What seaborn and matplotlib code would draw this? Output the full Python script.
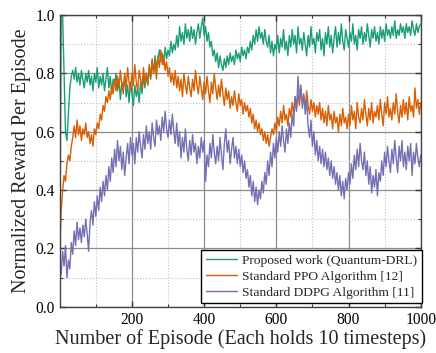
import numpy as np
import pandas as pd
import matplotlib
matplotlib.use("Agg")
import matplotlib.pyplot as plt
import seaborn as sns
from matplotlib.ticker import MultipleLocator, FixedLocator

episodes = np.arange(0, 1001, 4)

quantum_drl = [
    0.12, 1.00, 1.00, 0.80, 0.60, 0.57, 0.66, 0.75, 0.79, 0.81,
    0.78, 0.82, 0.77, 0.80, 0.76, 0.81, 0.78, 0.75, 0.80, 0.77,
    0.81, 0.76, 0.79, 0.74, 0.80, 0.77, 0.82, 0.75, 0.79, 0.76,
    0.80, 0.74, 0.78, 0.82, 0.75, 0.79, 0.73, 0.78, 0.76, 0.80,
    0.74, 0.78, 0.71, 0.77, 0.75, 0.79, 0.72, 0.76, 0.70, 0.77,
    0.73, 0.69, 0.76, 0.72, 0.75, 0.70, 0.77, 0.73, 0.79, 0.75,
    0.80, 0.76, 0.82, 0.78, 0.84, 0.80, 0.86, 0.82, 0.85, 0.88,
    0.84, 0.87, 0.83, 0.89, 0.85, 0.88, 0.86, 0.91, 0.87, 0.90,
    0.88, 0.93, 0.89, 0.96, 0.91, 0.94, 0.90, 0.97, 0.92, 0.95,
    0.91, 0.96, 0.92, 0.95, 0.90, 0.94, 0.97, 0.92, 0.96, 0.99,
    0.93, 0.96, 0.91, 0.94, 0.89, 0.91, 0.86, 0.88, 0.84, 0.87,
    0.82, 0.86, 0.83, 0.81, 0.85, 0.82, 0.86, 0.83, 0.87, 0.84,
    0.86, 0.83, 0.88, 0.85, 0.87, 0.84, 0.89, 0.86, 0.88, 0.85,
    0.89, 0.87, 0.91, 0.88, 0.93, 0.90, 0.95, 0.91, 0.96, 0.92,
    0.94, 0.90, 0.95, 0.91, 0.89, 0.93, 0.87, 0.91, 0.86, 0.90,
    0.88, 0.93, 0.87, 0.92, 0.89, 0.95, 0.88, 0.91, 0.86, 0.93,
    0.89, 0.95, 0.90, 0.93, 0.87, 0.96, 0.90, 0.92, 0.88, 0.94,
    0.90, 0.86, 0.93, 0.89, 0.96, 0.90, 0.92, 0.87, 0.94, 0.91,
    0.95, 0.88, 0.92, 0.86, 0.94, 0.90, 0.96, 0.89, 0.93, 0.87,
    0.92, 0.96, 0.89, 0.94, 0.90, 0.97, 0.91, 0.88, 0.95, 0.92,
    0.89, 0.94, 0.91, 0.97, 0.90, 0.93, 0.88, 0.95, 0.92, 0.96,
    0.90, 0.94, 0.91, 0.97, 0.93, 0.89, 0.95, 0.92, 0.96, 0.91,
    0.94, 0.90, 0.96, 0.92, 0.95, 0.91, 0.97, 0.93, 0.95, 0.92,
    0.96, 0.93, 0.98, 0.92, 0.95, 0.93, 0.97, 0.94, 0.96, 0.92,
    0.97, 0.94, 0.96, 0.93, 0.98, 0.95, 0.93, 0.97, 0.94, 0.96,
    0.97,
]

ppo = [
    0.18, 0.33, 0.40, 0.45, 0.43, 0.49, 0.52, 0.50, 0.55, 0.58,
    0.62, 0.58, 0.64, 0.59, 0.62, 0.57, 0.61, 0.59, 0.63, 0.58,
    0.60, 0.56, 0.59, 0.55, 0.61, 0.59, 0.63, 0.61, 0.66, 0.64,
    0.69, 0.67, 0.72, 0.70, 0.74, 0.71, 0.76, 0.73, 0.78, 0.74,
    0.79, 0.75, 0.81, 0.76, 0.73, 0.80, 0.75, 0.82, 0.77, 0.74,
    0.80, 0.76, 0.83, 0.77, 0.74, 0.81, 0.78, 0.75, 0.82, 0.77,
    0.80, 0.76, 0.83, 0.79, 0.85, 0.80, 0.84, 0.78, 0.86, 0.82,
    0.88, 0.83, 0.86, 0.81, 0.84, 0.79, 0.82, 0.77, 0.80, 0.76,
    0.81, 0.75, 0.79, 0.74, 0.78, 0.72, 0.80, 0.76, 0.73, 0.79,
    0.75, 0.72, 0.78, 0.74, 0.81, 0.76, 0.73, 0.79, 0.75, 0.71,
    0.77, 0.73, 0.79, 0.74, 0.70, 0.77, 0.73, 0.80, 0.75, 0.71,
    0.76, 0.72, 0.78, 0.73, 0.69, 0.75, 0.71, 0.74, 0.68, 0.72,
    0.69, 0.74, 0.70, 0.67, 0.73, 0.69, 0.71, 0.66, 0.70, 0.67,
    0.69, 0.65, 0.68, 0.63, 0.66, 0.61, 0.64, 0.60, 0.63, 0.59,
    0.61, 0.57, 0.60, 0.56, 0.59, 0.55, 0.58, 0.61, 0.59, 0.63,
    0.60, 0.65, 0.62, 0.67, 0.63, 0.69, 0.64, 0.66, 0.62, 0.68,
    0.65, 0.70, 0.66, 0.72, 0.68, 0.73, 0.69, 0.75, 0.70, 0.72,
    0.68, 0.74, 0.69, 0.66, 0.71, 0.67, 0.70, 0.65, 0.69, 0.66,
    0.70, 0.64, 0.68, 0.63, 0.67, 0.62, 0.69, 0.64, 0.66, 0.61,
    0.67, 0.63, 0.65, 0.60, 0.66, 0.62, 0.68, 0.63, 0.65, 0.61,
    0.66, 0.62, 0.69, 0.64, 0.67, 0.61, 0.70, 0.65, 0.63, 0.68,
    0.64, 0.71, 0.66, 0.62, 0.68, 0.64, 0.70, 0.63, 0.67, 0.65,
    0.69, 0.64, 0.71, 0.66, 0.62, 0.70, 0.66, 0.72, 0.65, 0.68,
    0.64, 0.70, 0.66, 0.73, 0.67, 0.63, 0.69, 0.65, 0.71, 0.66,
    0.70, 0.64, 0.72, 0.67, 0.69, 0.65, 0.75, 0.68, 0.71, 0.66,
    0.70,
]

ddpg = [
    0.17, 0.11, 0.19, 0.14, 0.21, 0.10, 0.16, 0.13, 0.22, 0.18,
    0.26, 0.21, 0.29, 0.23, 0.27, 0.22, 0.28, 0.24, 0.30, 0.25,
    0.19, 0.29, 0.33, 0.28, 0.36, 0.31, 0.38, 0.33, 0.41, 0.36,
    0.43, 0.38, 0.45, 0.40, 0.48, 0.43, 0.51, 0.46, 0.54, 0.48,
    0.57, 0.50, 0.55, 0.47, 0.53, 0.45, 0.51, 0.56, 0.49, 0.58,
    0.52, 0.56, 0.49, 0.58, 0.53, 0.60, 0.55, 0.51, 0.59, 0.54,
    0.62, 0.56, 0.60, 0.54, 0.63, 0.58, 0.55, 0.64, 0.59, 0.62,
    0.57, 0.65, 0.60, 0.67, 0.61, 0.58, 0.64, 0.59, 0.66, 0.60,
    0.56, 0.63, 0.55, 0.60, 0.51, 0.58, 0.53, 0.61, 0.54, 0.50,
    0.57, 0.52, 0.59, 0.53, 0.56, 0.49, 0.55, 0.51, 0.58, 0.53,
    0.57, 0.43, 0.52, 0.48, 0.56, 0.51, 0.59, 0.53, 0.49, 0.55,
    0.50, 0.58, 0.52, 0.47, 0.56, 0.61, 0.53, 0.57, 0.49, 0.54,
    0.58, 0.51, 0.55, 0.49, 0.54, 0.48, 0.52, 0.46, 0.50, 0.44,
    0.47, 0.41, 0.45, 0.38, 0.43, 0.36, 0.41, 0.35, 0.40, 0.37,
    0.43, 0.39, 0.46, 0.42, 0.50, 0.45, 0.53, 0.48, 0.56, 0.51,
    0.58, 0.53, 0.60, 0.55, 0.62, 0.57, 0.53, 0.61, 0.56, 0.63,
    0.58, 0.66, 0.62, 0.72, 0.67, 0.79, 0.71, 0.76, 0.68, 0.73,
    0.66, 0.71, 0.62, 0.58, 0.64, 0.55, 0.60, 0.52, 0.57, 0.50,
    0.55, 0.49, 0.54, 0.48, 0.53, 0.47, 0.51, 0.45, 0.50, 0.44,
    0.48, 0.42, 0.46, 0.40, 0.45, 0.38, 0.43, 0.37, 0.44, 0.40,
    0.46, 0.42, 0.49, 0.44, 0.52, 0.47, 0.54, 0.48, 0.56, 0.50,
    0.47, 0.53, 0.45, 0.50, 0.42, 0.48, 0.39, 0.45, 0.41, 0.47,
    0.38, 0.46, 0.43, 0.50, 0.45, 0.53, 0.48, 0.55, 0.50, 0.46,
    0.54, 0.49, 0.57, 0.51, 0.46, 0.55, 0.50, 0.57, 0.48, 0.53,
    0.47, 0.55, 0.50, 0.56, 0.45, 0.53, 0.49, 0.56, 0.51, 0.48,
    0.52,
]

series_names = ["Proposed work (Quantum-DRL)",
                "Standard PPO Algorithm [12]",
                "Standard DDPG Algorithm [11]"]
colors = ["#1b9e77", "#d95f02", "#7570b3"]
x_tick_labels = ["200", "400", "600", "800", "1000"]
y_tick_labels = ["0.0", "0.2", "0.4", "0.6", "0.8", "1.0"]

sns.set_style("ticks")
plt.rcParams["font.family"] = ["Liberation Serif", "DejaVu Serif"]

df = pd.DataFrame({
    "Episode": np.concatenate([episodes] * 3),
    "Reward": np.concatenate([quantum_drl, ppo, ddpg]),
    "Method": np.repeat(series_names, len(episodes)),
})

fig = plt.figure(figsize=(4.36, 3.53), dpi=100)
ax = fig.add_axes([0.137, 0.131, 0.828, 0.8265])

sns.lineplot(data=df, x="Episode", y="Reward", hue="Method",
             hue_order=series_names, palette=colors, linewidth=1.0,
             ax=ax, legend=False, estimator=None, sort=False)

ax.set_xlim(0, 1000)
ax.set_ylim(0, 1.0)
ax.xaxis.set_major_locator(FixedLocator([200, 400, 600, 800, 1000]))
ax.set_xticklabels(x_tick_labels)
ax.xaxis.set_minor_locator(FixedLocator([100, 300, 500, 700, 900]))
ax.yaxis.set_major_locator(FixedLocator([0.0, 0.2, 0.4, 0.6, 0.8, 1.0]))
ax.set_yticklabels(y_tick_labels)
ax.yaxis.set_minor_locator(MultipleLocator(0.1))

ax.grid(which="major", color="#8c8c8c", linewidth=0.9, linestyle="-")
ax.grid(which="minor", color="#bfbfbf", linewidth=0.8, linestyle=":")
ax.set_axisbelow(True)

ax.tick_params(which="both", direction="in", top=True, right=True,
               labelsize=11.2, colors="#333333", labelcolor="black")
ax.tick_params(which="major", length=4, width=1)
ax.tick_params(which="minor", length=2.5, width=0.8)
for s in ax.spines.values():
    s.set_color("#444444")
    s.set_linewidth(1.0)

ax.set_xlabel("Number of Episode (Each holds 10 timesteps)", fontsize=14.5, labelpad=1)
ax.set_ylabel("Normalized Reward Per Episode", fontsize=14.5, labelpad=3)

handles = [plt.Line2D([], [], color=c, linewidth=1.0) for c in colors]
leg = ax.legend(handles, series_names, loc="lower right",
                bbox_to_anchor=(1.004, 0.012), fontsize=9.7,
                frameon=True, fancybox=False, framealpha=1,
                edgecolor="black", handlelength=2.3, handletextpad=0.4,
                borderpad=0.35, labelspacing=0.25, borderaxespad=0.0)
leg.get_frame().set_linewidth(1.0)

fig.savefig("out.png", dpi=100)
